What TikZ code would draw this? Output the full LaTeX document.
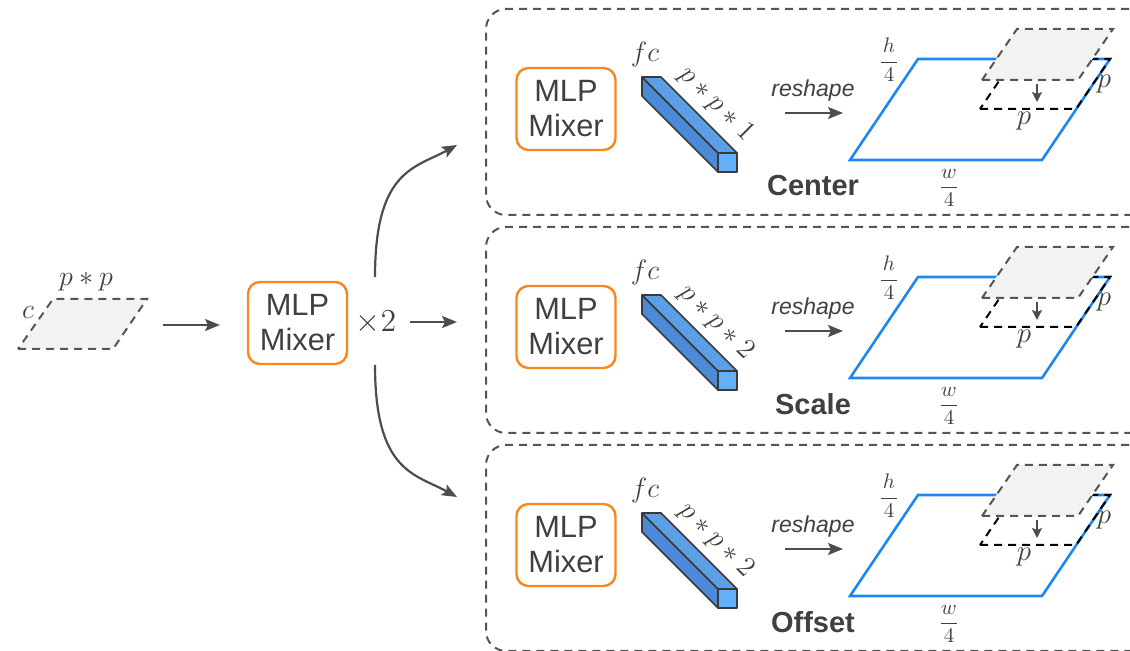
\RequirePackage{fix-cm}
\documentclass[tikz,border=0pt]{standalone}
\usepackage{fontspec}
\setsansfont{Liberation Sans}
\usetikzlibrary{arrows.meta}
\definecolor{tx}{HTML}{404040}
\definecolor{ar}{HTML}{4D4D4D}
\definecolor{org}{HTML}{F7881F}
\definecolor{blu}{HTML}{1E88F0}
\definecolor{patch}{HTML}{F2F2F2}
\definecolor{dg}{HTML}{555555}
\definecolor{cubetop}{HTML}{5C9FE6}
\definecolor{cubeside}{HTML}{4A8AD6}
\definecolor{cubefront}{HTML}{64B0F8}
\definecolor{edge}{HTML}{3A3A3A}
\newcommand{\myfrac}[2]{$\displaystyle\frac{\makebox[8pt]{$#1$}\rule[-1.2pt]{0pt}{0pt}}{\rule{0pt}{8pt}#2}$}
\begin{document}
\begin{tikzpicture}[x=0.5pt,y=-0.5pt,
  mixer/.style={draw=org, line width=1.2pt, rounded corners=6pt, minimum width=49.5pt, minimum height=41pt, align=center, text=tx, inner sep=0pt, font=\sffamily\fontsize{15.4}{17.5}\selectfont},
  arr/.style={draw=ar, line width=1.1pt, -{Stealth[length=7.5pt,width=6pt,inset=1.5pt]}},
  arrsmall/.style={draw=ar, line width=1pt, -{Stealth[length=5pt,width=5pt,inset=1pt]}},
  dashline/.style={line width=1pt, dash pattern=on 4pt off 3pt},
  panelbox/.style={draw=dg, dashline, rounded corners=10pt, minimum width=331.5pt, minimum height=103pt, anchor=north west, inner sep=0pt},
  mathlbl/.style={text=tx, inner sep=0pt, font=\fontsize{14}{16}\selectfont},
  plbl/.style={text=tx, inner sep=0pt, font=\fontsize{14.5}{16}\selectfont},
  fraclbl/.style={text=tx, inner sep=0pt, font=\fontsize{10.5}{12}\selectfont},
  reshapelbl/.style={text=tx, inner sep=0pt, font=\sffamily\itshape\fontsize{11.5}{13}\selectfont},
  titlelbl/.style={text=tx, inner sep=0pt, font=\sffamily\bfseries\fontsize{14.5}{16}\selectfont},
  cube/.style={draw=edge, line width=0.8pt, line join=round}
]
\useasboundingbox (0,0) rectangle (1130,651);
\clip (0,0) rectangle (1130,651);

% input patch
\draw[fill=patch, draw=dg, dashline] (18,349) -- (113,349) -- (147,299) -- (53,299) -- cycle;
\node[mathlbl] (cl) at (28,312) {$c$};
\node[mathlbl] (ppl) at (86,282) {$p*p$};
\coordinate (in1) at (163,325);
\coordinate (in2) at (220,325);
\draw[arr] (in1) -- (in2);

\node[mixer] (mix0) at (297.5,323) {MLP\\Mixer};
\node[mathlbl, font=\fontsize{16}{18}\selectfont] (times) at (376,323) {$\times 2$};

\coordinate (s1) at (375,277);
\coordinate (s2) at (410,322);
\coordinate (s3) at (375,365);
\coordinate (t1) at (457,145);
\coordinate (t2) at (457,322);
\coordinate (t3) at (457,497);
\draw[arr] (s1) .. controls (375,170) and (415,168) .. (t1);
\draw[arr] (s2) -- (t2);
\draw[arr] (s3) .. controls (375,472) and (415,474) .. (t3);

\foreach \i/\dy/\lab/\num in {1/0/Center/1,2/218/Scale/2,3/436/Offset/2}{
\begin{scope}[shift={(0,\dy)}]
  \node[panelbox] (panel\i) at (485,8) {};
  \node[mixer] (mix\i) at (566,109) {MLP\\Mixer};
  % cuboid
  \filldraw[cube, fill=cubeside] (642,77) -- (718,153) -- (718,172) -- (642,96) -- cycle;
  \filldraw[cube, fill=cubetop] (642,77) -- (661,77) -- (737,153) -- (718,153) -- cycle;
  \filldraw[cube, fill=cubefront] (718,153) rectangle (737,172);
  \node[mathlbl] (fc\i) at (645,55) {$fc$};
  \node[mathlbl, rotate=-45] (dim\i) at (716,104) {$p*p*\num$};
  % reshape
  \node[reshapelbl] (rs\i) at (813,91) {reshape};
  \coordinate (ra\i) at (785,113);
  \coordinate (rb\i) at (843,113);
  \draw[arr] (ra\i) -- (rb\i);
  \node[titlelbl] (lab\i) at (813,186) {\lab};
  % map
  \draw[blu, line width=1.3pt, line join=miter] (850,160) -- (1042,160) -- (1110,59) -- (918,59) -- cycle;
  \draw[black, dashline] (980,109) -- (1076,109) -- (1110,59) -- (1014,59) -- cycle;
  \draw[fill=patch, draw=dg, dashline] (982,80) -- (1078,80) -- (1113,29) -- (1017,29) -- cycle;
  \coordinate (da\i) at (1037,84);
  \coordinate (db\i) at (1037,102);
  \draw[arrsmall] (da\i) -- (db\i);
  \node[plbl] (pr\i) at (1104,84) {$p$};
  \node[plbl] (pb\i) at (1024,121) {$p$};
  \node[fraclbl] (h\i) at (889,60) {\myfrac{h}{4}};
  \node[fraclbl] (w\i) at (949,188) {\myfrac{w}{4}};
\end{scope}
}
\end{tikzpicture}
\end{document}
